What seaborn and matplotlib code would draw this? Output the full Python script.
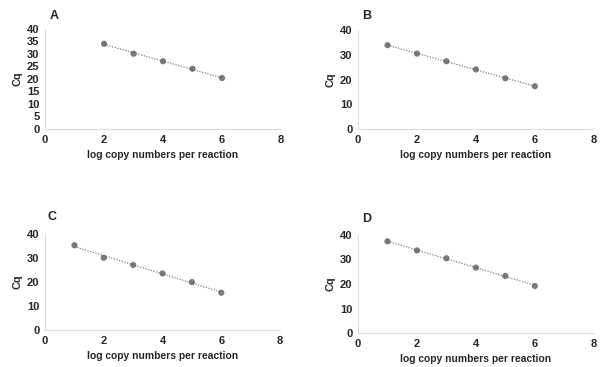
import numpy as np
import pandas as pd
import matplotlib
matplotlib.use("Agg")
import matplotlib.pyplot as plt
import seaborn as sns

# -------------------------------
# data
# -------------------------------
panels = ["A", "B", "C", "D"]
log_copies_a = [2, 3, 4, 5, 6]
cq_a = [34.1, 30.1, 27.1, 24.1, 20.4]
log_copies_b = [1, 2, 3, 4, 5, 6]
cq_b = [33.9, 30.5, 27.4, 24.1, 20.5, 17.3]
log_copies_c = [1, 2, 3, 4, 5, 6]
cq_c = [35.2, 30.0, 27.0, 23.5, 19.9, 15.5]
log_copies_d = [1, 2, 3, 4, 5, 6]
cq_d = [37.4, 33.7, 30.5, 26.7, 23.3, 19.2]

xs = [log_copies_a, log_copies_b, log_copies_c, log_copies_d]
ys = [cq_a, cq_b, cq_c, cq_d]
y_ticks = [[0, 5, 10, 15, 20, 25, 30, 35, 40],
           [0, 10, 20, 30, 40],
           [0, 10, 20, 30, 40],
           [0, 10, 20, 30, 40]]
x_ticks = [0, 2, 4, 6, 8]

sns.set_theme(style="white")
plt.rcParams['font.family'] = ['Liberation Sans', 'DejaVu Sans']

fig = plt.figure(figsize=(6.01, 3.67), dpi=100)

# axes boxes in figure fraction [left, bottom, width, height]
boxes = [[0.075, 0.6485, 0.3925, 0.2725],
         [0.5957, 0.6485, 0.3923, 0.2695],
         [0.075, 0.1008, 0.391, 0.2624],
         [0.5957, 0.0926, 0.3923, 0.2671]]
label_pos = [(50 / 601, 1 - 16 / 367), (362 / 601, 1 - 16 / 367),
             (48 / 601, 1 - 217 / 367), (362 / 601, 1 - 219 / 367)]

for i, name in enumerate(panels):
    ax = fig.add_axes(boxes[i])
    df = pd.DataFrame({"x": xs[i], "y": ys[i]})
    sns.regplot(data=df, x="x", y="y", ax=ax, ci=None, truncate=True,
                scatter_kws=dict(s=20, color="#595959", edgecolor="none", zorder=3),
                line_kws=dict(color="#808080", lw=0.9, ls=(0, (1, 1.2)), zorder=2))
    ax.set_xlim(0, 8)
    ax.set_ylim(0, 40)
    ax.set_xticks(x_ticks)
    ax.set_yticks(y_ticks[i])
    ax.tick_params(length=0, pad=4, labelsize=8)
    for t in ax.get_xticklabels() + ax.get_yticklabels():
        t.set_fontweight("bold")
        t.set_color("#262626")
    ax.set_xlabel("log copy numbers per reaction", fontsize=7.4,
                  fontweight="bold", color="#262626", labelpad=4)
    ax.set_ylabel("Cq", fontsize=7.8, fontweight="bold", color="#262626", labelpad=3)
    for s in ["top", "right"]:
        ax.spines[s].set_visible(False)
    for s in ["left", "bottom"]:
        ax.spines[s].set_color("#dcdcdc")
        ax.spines[s].set_linewidth(0.8)
    fig.text(label_pos[i][0], label_pos[i][1], name, fontsize=9,
             fontweight="bold", color="#262626", va="center")

fig.savefig("out.png", dpi=100)
